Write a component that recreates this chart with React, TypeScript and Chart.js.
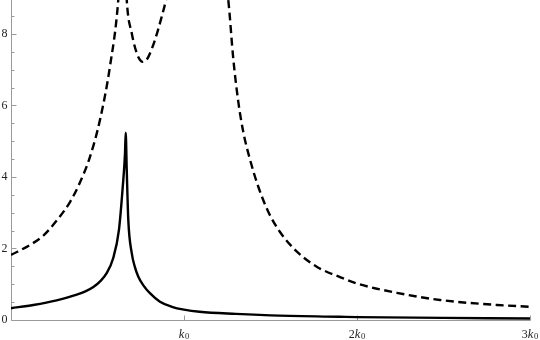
import React, { useEffect, useRef } from "react";
import { Chart, registerables } from "chart.js";

Chart.register(...registerables);

// x positions are in units of k0
const solidK = [0, 0.129, 0.264, 0.38, 0.43, 0.476, 0.515, 0.553, 0.59, 0.624, 0.646, 0.659, 0.663, 0.669, 0.678, 0.698, 0.715, 0.736, 0.765, 0.803, 0.861, 0.93, 1.0, 1.09, 1.3, 1.5, 1.9, 2.0, 2.5, 3.0];
const solidV = [0.33, 0.42, 0.55, 0.71, 0.8, 0.92, 1.08, 1.31, 1.72, 2.52, 3.73, 4.66, 5.24, 4.2, 2.8, 1.87, 1.5, 1.21, 0.97, 0.75, 0.51, 0.37, 0.29, 0.23, 0.17, 0.13, 0.09, 0.08, 0.06, 0.04];

const dashedK = [0, 0.11, 0.187, 0.264, 0.341, 0.399, 0.457, 0.514, 0.572, 0.62, 0.64, 0.652, 0.669, 0.698, 0.727, 0.745, 0.761, 0.778, 0.794, 0.832, 0.871, 0.896, 0.95, 1.05, 1.15, 1.22, 1.256, 1.285, 1.314, 1.343, 1.382, 1.43, 1.487, 1.555, 1.651, 1.767, 1.902, 2.0, 2.23, 2.48, 2.81, 3.0];
const dashedV = [1.82, 2.1, 2.36, 2.78, 3.3, 3.85, 4.57, 5.59, 7.09, 8.95, 10.6, 10.9, 8.95, 8.02, 7.46, 7.28, 7.22, 7.25, 7.36, 7.83, 8.48, 8.95, 10.2, 11.2, 11.2, 10.1, 8.95, 7.3, 6.1, 5.25, 4.48, 3.72, 3.03, 2.46, 1.92, 1.49, 1.2, 1.02, 0.76, 0.56, 0.42, 0.37];

const yMajorTicks = [0, 2, 4, 6, 8];
const yMinorTicks = [0.5, 1, 1.5, 2.5, 3, 3.5, 4.5, 5, 5.5, 6.5, 7, 7.5, 8.5];
const xMajorTicks = [1, 2, 3];
const xTickPrefixes = ["", "2", "3"];

const AXIS_COLOR = "#9a9a9a";
const LABEL_COLOR = "#222";
const SERIF = '"Liberation Serif", "DejaVu Serif", serif';

const axesPlugin = {
  id: "mathAxes",
  beforeDatasetsDraw(chart: any) {
    const { ctx, chartArea, scales } = chart;
    const xs = scales.x;
    const ys = scales.y;
    ctx.save();
    ctx.strokeStyle = AXIS_COLOR;
    ctx.lineWidth = 1;
    const left = Math.round(chartArea.left) + 0.5;
    const bottom = Math.round(chartArea.bottom) + 0.5;
    ctx.beginPath();
    ctx.moveTo(left, 0);
    ctx.lineTo(left, bottom);
    ctx.lineTo(Math.round(chartArea.right) + 0.5, bottom);
    ctx.stroke();
    ctx.beginPath();
    yMajorTicks.forEach((v) => {
      const py = Math.round(ys.getPixelForValue(v)) + 0.5;
      ctx.moveTo(left, py);
      ctx.lineTo(left + 5, py);
    });
    yMinorTicks.forEach((v) => {
      const py = Math.round(ys.getPixelForValue(v)) + 0.5;
      ctx.moveTo(left, py);
      ctx.lineTo(left + 3, py);
    });
    xMajorTicks.forEach((v) => {
      const px = Math.round(xs.getPixelForValue(v)) + 0.5;
      ctx.moveTo(px, bottom);
      ctx.lineTo(px, bottom - 5);
    });
    ctx.stroke();

    ctx.fillStyle = LABEL_COLOR;
    ctx.font = `12px ${SERIF}`;
    ctx.textAlign = "right";
    ctx.textBaseline = "middle";
    yMajorTicks.forEach((v) => {
      ctx.fillText(String(v), left - 4, ys.getPixelForValue(v));
    });

    ctx.textAlign = "left";
    ctx.textBaseline = "alphabetic";
    xMajorTicks.forEach((v, i) => {
      const prefix = xTickPrefixes[i];
      ctx.font = `12px ${SERIF}`;
      const wp = ctx.measureText(prefix).width;
      ctx.font = `italic 12.5px ${SERIF}`;
      const wk = ctx.measureText("k").width;
      ctx.font = `8.5px ${SERIF}`;
      const ws = ctx.measureText("0").width;
      const total = wp + wk + ws + 0.5;
      let x0 = xs.getPixelForValue(v) - total / 2;
      const base = 337.5;
      ctx.font = `12px ${SERIF}`;
      ctx.fillText(prefix, x0, base);
      x0 += wp;
      ctx.font = `italic 12.5px ${SERIF}`;
      ctx.fillText("k", x0, base);
      x0 += wk + 0.5;
      ctx.font = `8.5px ${SERIF}`;
      ctx.fillText("0", x0, base + 1.5);
    });
    ctx.restore();
  },
};

export default function App() {
  const ref = useRef<HTMLCanvasElement | null>(null);
  useEffect(() => {
    document.body.style.margin = "0";
    if (!ref.current) return;
    const chart = new Chart(ref.current, {
      type: "line",
      data: {
        datasets: [
          {
            label: "solid",
            data: solidK.map((k, i) => ({ x: k, y: solidV[i] })),
            borderColor: "#000",
            borderWidth: 2.4,
            pointRadius: 0,
            fill: false,
            cubicInterpolationMode: "monotone",
          },
          {
            label: "dashed",
            data: dashedK.map((k, i) => ({ x: k, y: dashedV[i] })),
            borderColor: "#000",
            borderWidth: 2.4,
            borderDash: [8, 4.5],
            pointRadius: 0,
            fill: false,
            cubicInterpolationMode: "monotone",
          },
        ],
      },
      options: {
        responsive: false,
        animation: false,
        devicePixelRatio: 1,
        layout: { padding: { left: 11, right: 10, top: 0, bottom: 20 } },
        plugins: { legend: { display: false }, tooltip: { enabled: false } },
        scales: {
          x: { type: "linear", min: 0, max: 3, display: false },
          y: { type: "linear", min: 0, max: 8.95, display: false },
        },
      },
      plugins: [axesPlugin],
    });
    return () => chart.destroy();
  }, []);
  return (
    <div style={{ position: "absolute", left: 0, top: 0, width: 540, height: 340, background: "#fff" }}>
      <canvas ref={ref} width={540} height={340} />
    </div>
  );
}
